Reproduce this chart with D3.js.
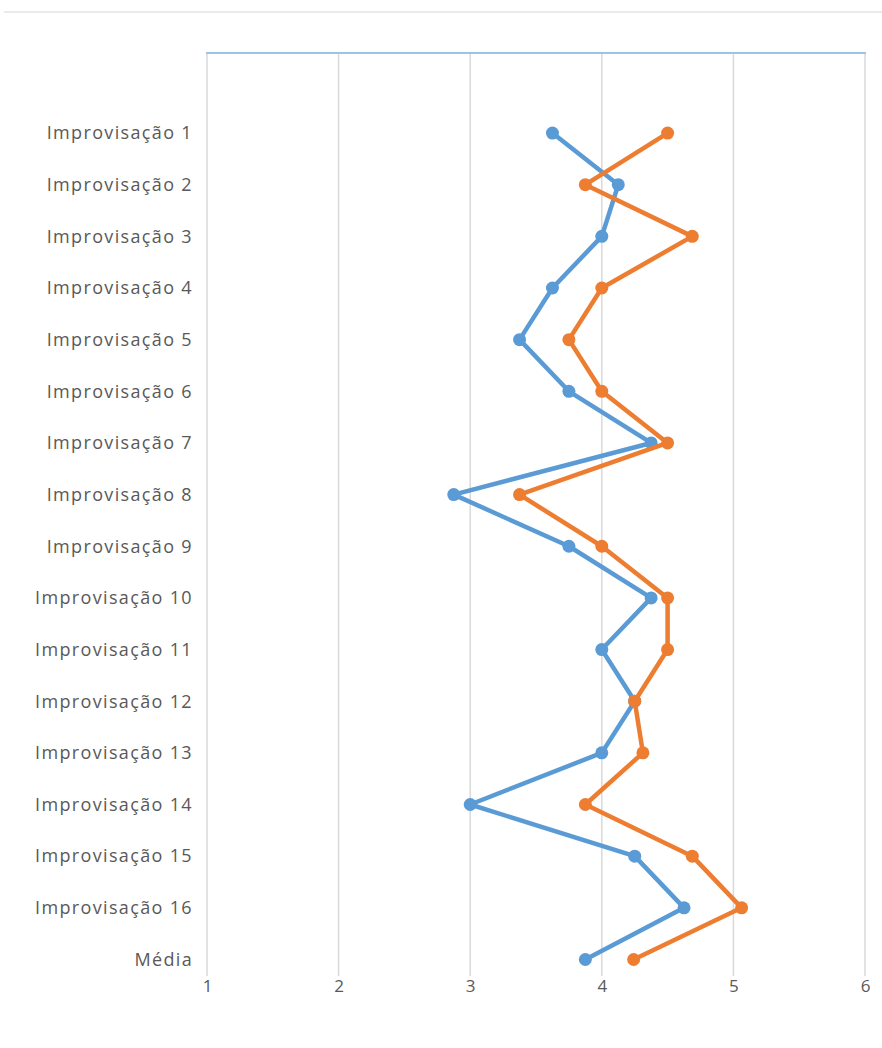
<!DOCTYPE html>
<html>
<head>
<meta charset="utf-8">
<script src="https://cdn.jsdelivr.net/npm/d3@7"></script>
<style>
  html, body { margin: 0; padding: 0; background: #fff; }
  svg { display: block; }
  text { font-family: "Open Sans", Lato, sans-serif; fill: #595959; }
</style>
</head>
<body>
<script>
// Category labels, top to bottom
const categories = [
  "Improvisação 1", "Improvisação 2", "Improvisação 3", "Improvisação 4",
  "Improvisação 5", "Improvisação 6", "Improvisação 7", "Improvisação 8",
  "Improvisação 9", "Improvisação 10", "Improvisação 11", "Improvisação 12",
  "Improvisação 13", "Improvisação 14", "Improvisação 15", "Improvisação 16",
  "Média"
];

// Blue series scores
const seriesBlue = [
  3.625, 4.125, 4.0, 3.625, 3.375, 3.75, 4.375, 2.875,
  3.75, 4.375, 4.0, 4.25, 4.0, 3.0, 4.25, 4.625, 3.875
];

// Orange series scores
const seriesOrange = [
  4.5, 3.875, 4.6875, 4.0, 3.75, 4.0, 4.5, 3.375,
  4.0, 4.5, 4.5, 4.25, 4.3125, 3.875, 4.6875, 5.0625, 4.242
];

const xTicks = [1, 2, 3, 4, 5, 6];

const W = 882, H = 1048;
const svg = d3.select("body").append("svg").attr("width", W).attr("height", H);

// Thin rule across the top of the frame
svg.append("line")
  .attr("x1", 4).attr("x2", W).attr("y1", 12).attr("y2", 12)
  .attr("stroke", "#e3e3e3").attr("stroke-width", 1.5);

const x = d3.scaleLinear().domain([1, 6]).range([207, 865]);
// Vertical position by category index; the plot frame extends beyond the first and last rows
const y = d3.scaleLinear().domain([-1.55, 16.32]).range([53, 976]);

// Vertical gridlines
svg.append("g").selectAll("line").data(xTicks).join("line")
  .attr("x1", d => x(d)).attr("x2", d => x(d))
  .attr("y1", y(-1.55)).attr("y2", y(16.32))
  .attr("stroke", "#d9d9d9").attr("stroke-width", 1.5);

// Top axis line
svg.append("line")
  .attr("x1", x(1) - 1).attr("x2", x(6) + 1)
  .attr("y1", y(-1.55)).attr("y2", y(-1.55))
  .attr("stroke", "#9dc3e6").attr("stroke-width", 2);

// Value axis labels along the bottom
const xAxis = d3.axisBottom(x).tickValues(xTicks).tickSize(0).tickPadding(0).tickFormat(d3.format("d"));
const gx = svg.append("g").attr("transform", `translate(0, ${y(16.32)})`).call(xAxis);
gx.select(".domain").remove();
gx.selectAll("text").attr("font-size", 17).attr("dy", "0.95em")
  .style("font-family", "'Open Sans', Lato, sans-serif").style("fill", "#595959");

// Category labels
const idx = d3.range(categories.length);
svg.append("g").selectAll("text").data(idx).join("text")
  .attr("x", 193).attr("y", d => y(d)).attr("dy", "0.35em")
  .attr("text-anchor", "end").attr("font-size", 18)
  .attr("letter-spacing", 1.35)
  .text(d => categories[d]);

// Series lines and markers
function drawSeries(values, color) {
  const line = d3.line().x(d => x(values[d])).y(d => y(d));
  svg.append("path").datum(idx)
    .attr("d", line).attr("fill", "none")
    .attr("stroke", color).attr("stroke-width", 4.5)
    .attr("stroke-linejoin", "round");
  svg.append("g").selectAll("circle").data(idx).join("circle")
    .attr("cx", d => x(values[d])).attr("cy", d => y(d)).attr("r", 6.5)
    .attr("fill", color);
}
drawSeries(seriesBlue, "#5b9bd5");
drawSeries(seriesOrange, "#ed7d31");
</script>
</body>
</html>
